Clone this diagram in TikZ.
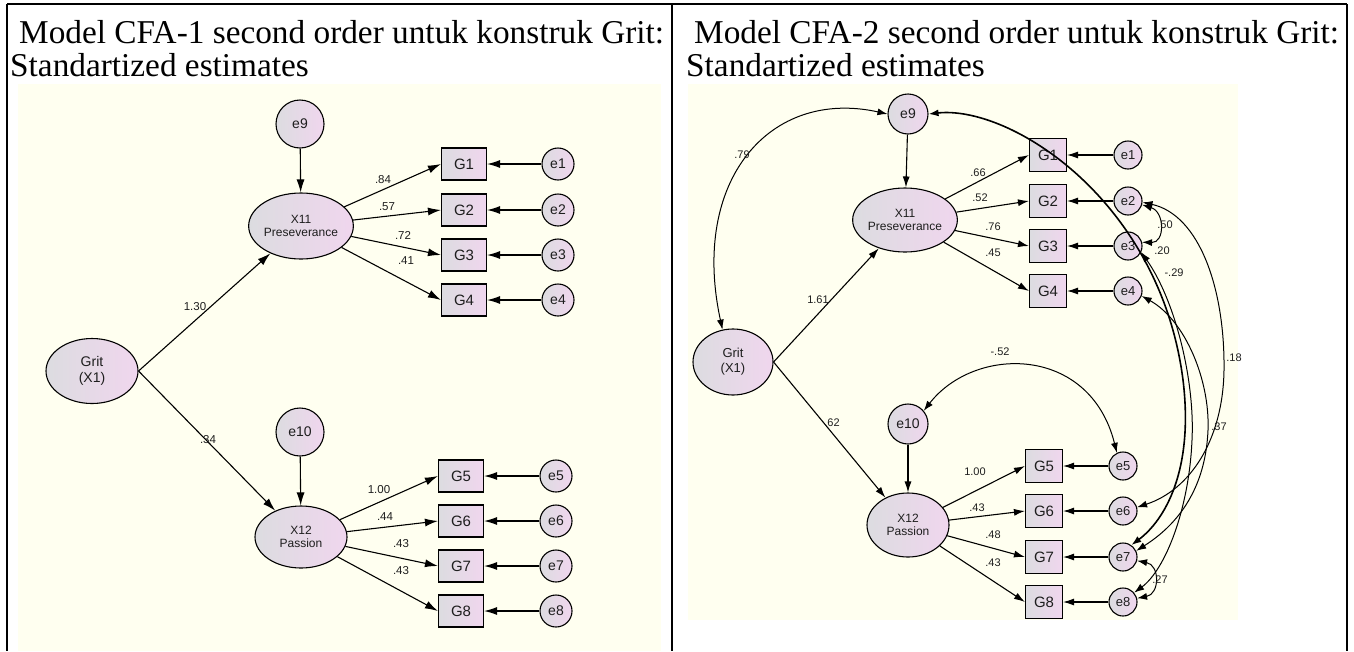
\documentclass[tikz,border=0pt]{standalone}
\usepackage{fontspec}
\setmainfont{Liberation Serif}
\setsansfont{Liberation Sans}
\usetikzlibrary{shapes.geometric,arrows.meta}
\definecolor{ivory}{RGB}{255,255,240}
\definecolor{nodeL}{RGB}{220,220,224}
\definecolor{nodeR}{RGB}{240,214,238}
\definecolor{txt}{RGB}{30,30,30}
\begin{document}
\begin{tikzpicture}[x=1pt,y=-1pt,
  lat/.style={ellipse, draw=black, line width=1.1pt, left color=nodeL, right color=nodeR, inner sep=0pt, align=center, font=\sffamily\fontsize{12}{13}\selectfont, text=txt},
  obs/.style={rectangle, draw=black, line width=1.1pt, left color=nodeL, right color=nodeR, inner sep=0pt, font=\sffamily\fontsize{15}{15}\selectfont, text=txt},
  err/.style={circle, draw=black, line width=1.1pt, left color=nodeL, right color=nodeR, inner sep=0pt, font=\sffamily\fontsize{14}{14}\selectfont, text=txt},
  arr/.style={draw=black, line width=1.1pt, -{Latex[length=13pt,width=8pt]}},
  cov/.style={draw=black, line width=1pt, {Latex[length=10pt,width=7pt]}-{Latex[length=10pt,width=7pt]}},
  lbl/.style={font=\sffamily\fontsize{11.5}{12}\selectfont, text=txt, inner sep=0pt},
  ttl/.style={font=\fontsize{33.3}{38}\selectfont, anchor=base west, inner sep=0pt},
]
\useasboundingbox (0,0) rectangle (1354,651);
% backgrounds
\fill[ivory] (18,84) rectangle (661,651);
\fill[ivory] (688,84) rectangle (1238,620);
% table rules
\draw[line width=1.4pt] (7,4) -- (1347,4);
\draw[line width=1.4pt] (7,4) -- (7,651);
\draw[line width=1.4pt] (672,4) -- (672,651);
\draw[line width=1.4pt] (1347,4) -- (1347,651);
% titles
\node[ttl] (t1a) at (19,43) {Model CFA-1 second order untuk konstruk Grit:};
\node[ttl] (t1b) at (10,76) {Standartized estimates};
\node[ttl] (t2a) at (694,43) {Model CFA-2 second order untuk konstruk Grit:};
\node[ttl] (t2b) at (686,76) {Standartized estimates};

% ===== LEFT MODEL =====
\node[lat, minimum width=92, minimum height=65, font=\sffamily\fontsize{14}{16}\selectfont] (LG) at (92,371) {Grit\\(X1)};
\node[lat, minimum width=92, minimum height=66] (LX11) at (301,226) {X11\\Preseverance};
\node[lat, minimum width=92, minimum height=62] (LX12) at (301,537) {X12\\Passion};
\node[err, minimum size=48] (Le9) at (300,124) {e9};
\node[err, minimum size=48] (Le10) at (300,432) {e10};
\foreach \i/\y/\gx/\ex in {1/164/464/558,2/210/464/558,3/255/464/558,4/300/464/558,5/476/461/556,6/521/461/556,7/566/461/556,8/611/461/556}{
  \node[obs, minimum width=45, minimum height=32] (LG\i) at (\gx,\y) {G\i};
  \node[err, minimum size=32] (Le\i) at (\ex,\y) {e\i};
  \draw[arr] (Le\i) -- (LG\i);
}
\draw[arr] (LG.east) -- (LX11);
\draw[arr] (LG.east) -- (LX12);
\draw[arr] (Le9) -- (LX11);
\draw[arr] (Le10) -- (LX12);
\foreach \i in {1,2,3,4}{\draw[arr] (LX11) -- (LG\i.west);}
\foreach \i in {5,6,7,8}{\draw[arr] (LX12) -- (LG\i.west);}
\node[lbl] (l130) at (195,307) {1.30};
\node[lbl] (l34) at (208,440) {.34};
\node[lbl] (l84) at (383,180) {.84};
\node[lbl] (l57) at (387,207) {.57};
\node[lbl] (l72) at (403,235) {.72};
\node[lbl] (l41) at (406,261) {.41};
\node[lbl] (l100) at (379,490) {1.00};
\node[lbl] (l44) at (385,517) {.44};
\node[lbl] (l43a) at (401,544) {.43};
\node[lbl] (l43b) at (401,571) {.43};

% ===== RIGHT MODEL =====
\begin{scope}[lbl/.style={font=\sffamily\fontsize{11}{12}\selectfont, text=txt, inner sep=0pt},
  arr/.style={draw=black, line width=1.1pt, -{Latex[length=11pt,width=7pt]}}]
\node[lat, minimum width=80, minimum height=66, font=\sffamily\fontsize{13}{15}\selectfont] (RG) at (733,362) {Grit\\(X1)};
\node[lat, minimum width=86, minimum height=64] (RX11) at (905,220) {X11\\Preseverance};
\node[lat, minimum width=82, minimum height=64] (RX12) at (908,525) {X12\\Passion};
\node[err, minimum size=40] (Re9) at (908,114) {e9};
\node[err, minimum size=40] (Re10) at (908,424) {e10};
\foreach \i/\y/\gx/\ex in {1/155/1048/1128,2/201/1048/1128,3/246/1048/1128,4/291/1048/1128,5/466/1044/1123,6/511/1044/1123,7/557/1044/1123,8/602/1044/1123}{
  \node[obs, minimum width=37, minimum height=33] (RG\i) at (\gx,\y) {G\i};
  \node[err, minimum size=28, font=\sffamily\fontsize{13}{13}\selectfont] (Re\i) at (\ex,\y) {e\i};
  \draw[arr] (Re\i) -- (RG\i);
}
\draw[arr] (RG.east) -- (RX11);
\draw[arr] (RG.east) -- (RX12);
\draw[arr] (Re9) -- (RX11);
\draw[arr] (Re10) -- (RX12);
\foreach \i in {1,2,3,4}{\draw[arr] (RX11) -- (RG\i.west);}
\foreach \i in {5,6,7,8}{\draw[arr] (RX12) -- (RG\i.west);}
% covariances
\draw[cov] (RG.108) .. controls (690,180) and (770,88) .. (Re9.west);
\draw[cov] (Re10.40) .. controls (975,345) and (1090,345) .. (Re5.115);
\draw[cov] (Re2.-15) .. controls (1165,212) and (1165,243) .. (Re3.15);
\draw[cov] (Re7.-15) .. controls (1160,565) and (1160,594) .. (Re8.15);
\draw[cov, line width=1.6pt] (Re9.east) .. controls (1010,105) and (1160,200) .. (1183,380) .. controls (1194,470) and (1165,520) .. (Re7.55);
\draw[cov] (Re3.-25) .. controls (1175,300) and (1195,380) .. (1192,440) .. controls (1189,510) and (1165,570) .. (Re8.40);
\draw[cov] (Re4.-20) .. controls (1185,320) and (1210,380) .. (1208,430) .. controls (1206,480) and (1185,520) .. (Re7.25);
\draw[cov] (Re2.-5) .. controls (1200,215) and (1225,290) .. (1224,370) .. controls (1223,440) and (1190,490) .. (Re6.15);
% labels
\node[lbl] (r79) at (742,155) {.79};
\node[lbl] (r161) at (818,300) {1.61};
\node[lbl] (r62) at (832,423) {.62};
\node[lbl] (r66) at (978,173) {.66};
\node[lbl] (r52) at (980,198) {.52};
\node[lbl] (r76) at (993,227) {.76};
\node[lbl] (r45) at (993,253) {.45};
\node[lbl] (r100) at (975,472) {1.00};
\node[lbl] (r43a) at (977,508) {.43};
\node[lbl] (r48) at (993,535) {.48};
\node[lbl] (r43b) at (993,563) {.43};
\node[lbl] (rm52) at (1000,352) {-.52};
\node[lbl] (r50) at (1165,225) {.50};
\node[lbl] (r20) at (1162,251) {.20};
\node[lbl] (rm29) at (1174,273) {-.29};
\node[lbl] (r18) at (1234,358) {.18};
\node[lbl] (r37) at (1219,427) {.37};
\node[lbl] (r27) at (1160,580) {.27};
\end{scope}
\end{tikzpicture}
\end{document}
